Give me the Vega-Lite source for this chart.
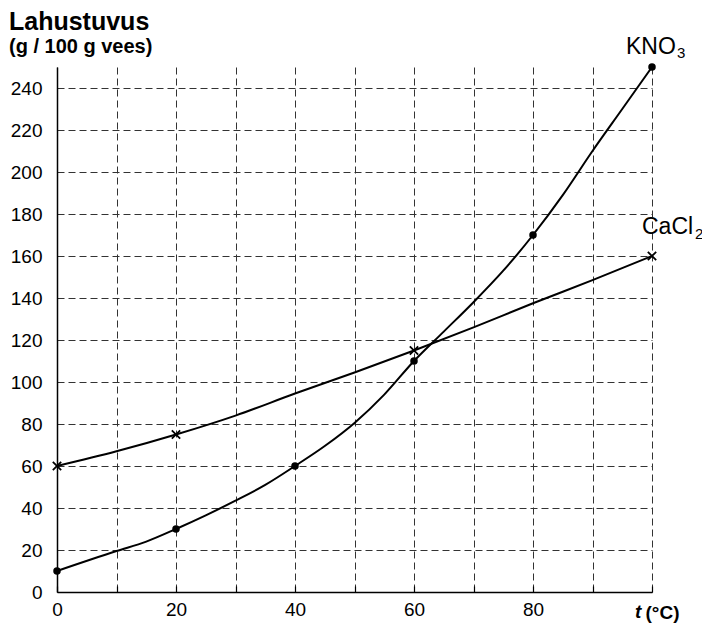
{
  "$schema": "https://vega.github.io/schema/vega-lite/v6.json",
  "width": 595,
  "height": 525,
  "autosize": {"type": "none"},
  "padding": {"left": 57, "top": 67, "right": 50, "bottom": 34},
  "background": "white",
  "config": {"view": {"stroke": null}, "font": "Liberation Sans"},
  "title": {
    "text": "Lahustuvus",
    "subtitle": "(g / 100 g vees)",
    "anchor": "start",
    "frame": "group",
    "orient": "top",
    "dx": -48,
    "dy": 21,
    "offset": 0,
    "fontSize": 25,
    "fontWeight": "bold",
    "color": "black",
    "font": "Liberation Sans",
    "subtitleFont": "Liberation Sans",
    "subtitleFontSize": 20,
    "subtitleFontWeight": "bold",
    "subtitleColor": "black",
    "subtitlePadding": 2
  },
  "datasets": {
    "curves": [
      {"series": "KNO3", "t": 0, "s": 10},
      {"series": "KNO3", "t": 10, "s": 19.5},
      {"series": "KNO3", "t": 15, "s": 24},
      {"series": "KNO3", "t": 20, "s": 30},
      {"series": "KNO3", "t": 25, "s": 36.5},
      {"series": "KNO3", "t": 30, "s": 43.5},
      {"series": "KNO3", "t": 35, "s": 51},
      {"series": "KNO3", "t": 40, "s": 60},
      {"series": "KNO3", "t": 45, "s": 69.5},
      {"series": "KNO3", "t": 50, "s": 80.5},
      {"series": "KNO3", "t": 55, "s": 94},
      {"series": "KNO3", "t": 60, "s": 110},
      {"series": "KNO3", "t": 65, "s": 124},
      {"series": "KNO3", "t": 70, "s": 138},
      {"series": "KNO3", "t": 75, "s": 153},
      {"series": "KNO3", "t": 80, "s": 170},
      {"series": "KNO3", "t": 85, "s": 189},
      {"series": "KNO3", "t": 90, "s": 210},
      {"series": "KNO3", "t": 95, "s": 230},
      {"series": "KNO3", "t": 100, "s": 250},
      {"series": "CaCl2", "t": 0, "s": 60},
      {"series": "CaCl2", "t": 10, "s": 67},
      {"series": "CaCl2", "t": 20, "s": 75},
      {"series": "CaCl2", "t": 30, "s": 84},
      {"series": "CaCl2", "t": 40, "s": 94.5},
      {"series": "CaCl2", "t": 50, "s": 104.5},
      {"series": "CaCl2", "t": 60, "s": 115},
      {"series": "CaCl2", "t": 70, "s": 126},
      {"series": "CaCl2", "t": 80, "s": 137.5},
      {"series": "CaCl2", "t": 90, "s": 148.5},
      {"series": "CaCl2", "t": 100, "s": 160}
    ],
    "measured": [
      {"series": "KNO3", "t": 0, "s": 10},
      {"series": "KNO3", "t": 20, "s": 30},
      {"series": "KNO3", "t": 40, "s": 60},
      {"series": "KNO3", "t": 60, "s": 110},
      {"series": "KNO3", "t": 80, "s": 170},
      {"series": "KNO3", "t": 100, "s": 250},
      {"series": "CaCl2", "t": 0, "s": 60},
      {"series": "CaCl2", "t": 20, "s": 75},
      {"series": "CaCl2", "t": 60, "s": 115},
      {"series": "CaCl2", "t": 100, "s": 160}
    ],
    "names": [
      {"series": "KNO3", "main": "KNO", "sub": "3", "t": 100, "s": 250},
      {"series": "CaCl2", "main": "CaCl", "sub": "2", "t": 100, "s": 160}
    ],
    "xlabel": [{"text": "t", "t": 100, "s": 0}]
  },
  "layer": [
    {
      "data": {"name": "curves"},
      "mark": {"type": "line", "color": "black", "strokeWidth": 2, "interpolate": "monotone"},
      "encoding": {
        "x": {
          "field": "t", "type": "quantitative",
          "scale": {"domain": [0, 100], "nice": false, "zero": false},
          "axis": {
            "values": [0, 10, 20, 30, 40, 50, 60, 70, 80, 90, 100],
            "labelExpr": "(datum.value % 20 == 0 && datum.value < 100) ? datum.label : ''",
            "title": "(°C)",
            "titleFont": "Liberation Sans",
            "titleFontSize": 19,
            "titleFontWeight": "bold",
            "titleColor": "black",
            "titleAlign": "left",
            "titleBaseline": "alphabetic",
            "titleX": 588,
            "titleY": 26,
            "grid": true,
            "gridDash": [7, 4],
            "gridColor": "#333333",
            "gridWidth": 1,
            "domainColor": "black",
            "domainWidth": 1.5,
            "ticks": true,
            "tickSize": -6,
            "tickColor": "black",
            "tickWidth": 1.2,
            "labelFont": "Liberation Sans",
            "labelFontSize": 19,
            "labelColor": "black",
            "labelBaseline": "alphabetic",
            "labelPadding": 29,
            "labelFlush": false
          }
        },
        "y": {
          "field": "s", "type": "quantitative",
          "scale": {"domain": [0, 250], "nice": false},
          "axis": {
            "values": [0, 10, 20, 30, 40, 50, 60, 70, 80, 90, 100, 110, 120, 130, 140, 150, 160, 170, 180, 190, 200, 210, 220, 230, 240, 250],
            "labelExpr": "(datum.value % 20 == 0 && datum.value <= 240) ? datum.label : ''",
            "title": null,
            "grid": true,
            "gridDash": [7, 4],
            "gridColor": "#333333",
            "gridWidth": 1,
            "domainColor": "black",
            "domainWidth": 1.5,
            "ticks": false,
            "labelFont": "Liberation Sans",
            "labelFontSize": 19,
            "labelColor": "black",
            "labelPadding": 15,
            "labelFlush": false
          }
        },
        "detail": {"field": "series"}
      }
    },
    {
      "data": {"name": "measured"},
      "transform": [{"filter": "datum.series == 'KNO3'"}],
      "mark": {"type": "point", "shape": "circle", "filled": true, "color": "black", "size": 56, "opacity": 1},
      "encoding": {
        "x": {"field": "t", "type": "quantitative"},
        "y": {"field": "s", "type": "quantitative"}
      }
    },
    {
      "data": {"name": "measured"},
      "transform": [{"filter": "datum.series == 'CaCl2'"}],
      "mark": {"type": "point", "shape": "M-1,-1L1,1M-1,1L1,-1", "filled": false, "color": "black", "strokeWidth": 1.8, "size": 70, "opacity": 1},
      "encoding": {
        "x": {"field": "t", "type": "quantitative"},
        "y": {"field": "s", "type": "quantitative"}
      }
    },
    {
      "data": {"name": "names"},
      "transform": [{"filter": "datum.series == 'KNO3'"}],
      "mark": {"type": "text", "font": "Liberation Sans", "fontSize": 23, "color": "black", "align": "left", "baseline": "alphabetic", "dx": -26, "dy": -13},
      "encoding": {
        "x": {"field": "t", "type": "quantitative"},
        "y": {"field": "s", "type": "quantitative"},
        "text": {"field": "main"}
      }
    },
    {
      "data": {"name": "names"},
      "transform": [{"filter": "datum.series == 'KNO3'"}],
      "mark": {"type": "text", "font": "Liberation Sans", "fontSize": 15, "color": "black", "align": "left", "baseline": "alphabetic", "dx": 25, "dy": -9},
      "encoding": {
        "x": {"field": "t", "type": "quantitative"},
        "y": {"field": "s", "type": "quantitative"},
        "text": {"field": "sub"}
      }
    },
    {
      "data": {"name": "names"},
      "transform": [{"filter": "datum.series == 'CaCl2'"}],
      "mark": {"type": "text", "font": "Liberation Sans", "fontSize": 23, "color": "black", "align": "left", "baseline": "alphabetic", "dx": -10, "dy": -22},
      "encoding": {
        "x": {"field": "t", "type": "quantitative"},
        "y": {"field": "s", "type": "quantitative"},
        "text": {"field": "main"}
      }
    },
    {
      "data": {"name": "names"},
      "transform": [{"filter": "datum.series == 'CaCl2'"}],
      "mark": {"type": "text", "font": "Liberation Sans", "fontSize": 15, "color": "black", "align": "left", "baseline": "alphabetic", "dx": 43, "dy": -17},
      "encoding": {
        "x": {"field": "t", "type": "quantitative"},
        "y": {"field": "s", "type": "quantitative"},
        "text": {"field": "sub"}
      }
    },
    {
      "data": {"name": "xlabel"},
      "mark": {"type": "text", "font": "Liberation Sans", "fontSize": 19, "fontWeight": "bold", "fontStyle": "italic", "color": "black", "align": "left", "baseline": "alphabetic", "dx": -17, "dy": 26},
      "encoding": {
        "x": {"field": "t", "type": "quantitative"},
        "y": {"field": "s", "type": "quantitative"},
        "text": {"field": "text"}
      }
    }
  ]
}
